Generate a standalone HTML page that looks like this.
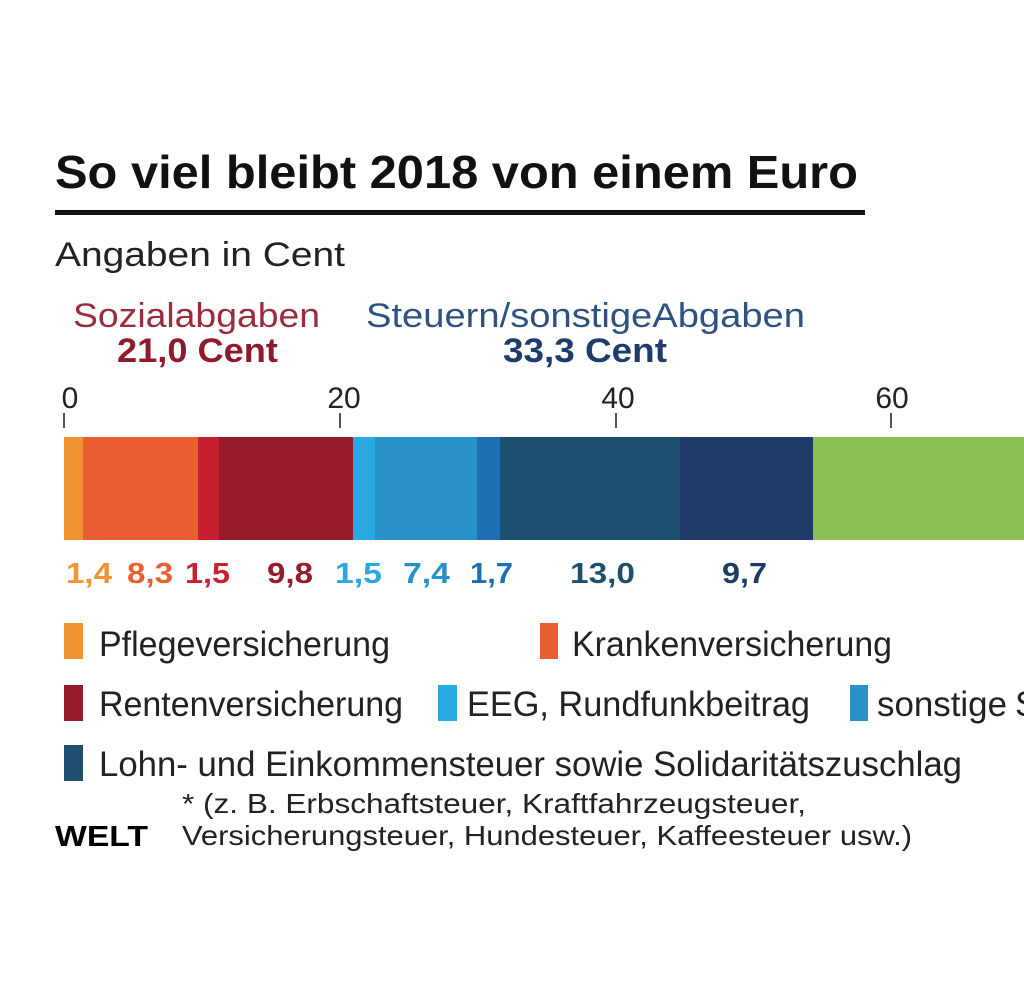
<!DOCTYPE html>
<html>
<head>
<meta charset="utf-8">
<style>
  html, body { margin: 0; padding: 0; background: #ffffff; }
  svg { display: block; }
  text { font-family: "Liberation Sans", "DejaVu Sans", sans-serif; }
</style>
</head>
<body>
<svg width="1024" height="1001" viewBox="0 0 1024 1001" xmlns="http://www.w3.org/2000/svg">
  <rect x="0" y="0" width="1024" height="1001" fill="#ffffff"/>

  <!-- Title -->
  <text x="55" y="188" font-size="46" font-weight="bold" fill="#111111" textLength="803" lengthAdjust="spacingAndGlyphs">So viel bleibt 2018 von einem Euro</text>
  <rect x="55" y="210" width="810" height="5" fill="#111111"/>

  <text x="55" y="266" font-size="34" fill="#222222" textLength="290" lengthAdjust="spacingAndGlyphs">Angaben in Cent</text>

  <!-- Group headers -->
  <text x="73" y="327" font-size="34" fill="#9b2c3c" textLength="247" lengthAdjust="spacingAndGlyphs">Sozialabgaben</text>
  <text x="117" y="362" font-size="34" font-weight="bold" fill="#8e1b2c" textLength="161" lengthAdjust="spacingAndGlyphs">21,0 Cent</text>
  <text x="366" y="327" font-size="34" fill="#2d5280" textLength="439" lengthAdjust="spacingAndGlyphs">Steuern/sonstigeAbgaben</text>
  <text x="503" y="362" font-size="34" font-weight="bold" fill="#1e3c69" textLength="164" lengthAdjust="spacingAndGlyphs">33,3 Cent</text>

  <!-- Axis tick labels -->
  <g font-size="30" fill="#222222" text-anchor="middle">
    <text x="70" y="408">0</text>
    <text x="344" y="408">20</text>
    <text x="618" y="408">40</text>
    <text x="892" y="408">60</text>
  </g>
  <g stroke="#1a1a1a" stroke-width="1.5">
    <line x1="64" y1="413" x2="64" y2="428"/>
    <line x1="340" y1="413" x2="340" y2="428"/>
    <line x1="616" y1="413" x2="616" y2="428"/>
    <line x1="891" y1="413" x2="891" y2="428"/>
  </g>

  <!-- Stacked bar -->
  <rect x="64" y="437" width="19.5" height="103" fill="#f39433"/>
  <rect x="83" y="437" width="115.5" height="103" fill="#e95f32"/>
  <rect x="198" y="437" width="21.5" height="103" fill="#c8202e"/>
  <rect x="219" y="437" width="134.5" height="103" fill="#961b2b"/>
  <rect x="353" y="437" width="22.5" height="103" fill="#29a9e1"/>
  <rect x="375" y="437" width="102.5" height="103" fill="#2891c8"/>
  <rect x="477" y="437" width="23.5" height="103" fill="#1c6fb3"/>
  <rect x="500" y="437" width="180.5" height="103" fill="#1d506f"/>
  <rect x="680" y="437" width="133.5" height="103" fill="#1f3a68"/>
  <rect x="813" y="437" width="211" height="103" fill="#8bc052"/>

  <!-- Value labels -->
  <g font-size="29" font-weight="bold">
    <text x="66" y="583" fill="#f39433" textLength="46" lengthAdjust="spacingAndGlyphs">1,4</text>
    <text x="127" y="583" fill="#e95f32" textLength="46" lengthAdjust="spacingAndGlyphs">8,3</text>
    <text x="185" y="583" fill="#c8202e" textLength="45" lengthAdjust="spacingAndGlyphs">1,5</text>
    <text x="267" y="583" fill="#961b2b" textLength="46" lengthAdjust="spacingAndGlyphs">9,8</text>
    <text x="335" y="583" fill="#29a9e1" textLength="47" lengthAdjust="spacingAndGlyphs">1,5</text>
    <text x="403" y="583" fill="#2891c8" textLength="47" lengthAdjust="spacingAndGlyphs">7,4</text>
    <text x="470" y="583" fill="#1c6fb3" textLength="43" lengthAdjust="spacingAndGlyphs">1,7</text>
    <text x="570" y="583" fill="#1d506f" textLength="65" lengthAdjust="spacingAndGlyphs">13,0</text>
    <text x="722" y="583" fill="#1f3a68" textLength="45" lengthAdjust="spacingAndGlyphs">9,7</text>
  </g>

  <!-- Legend -->
  <rect x="64" y="623" width="19" height="36" fill="#f39433"/>
  <text x="99" y="656" font-size="35" fill="#222222" textLength="291" lengthAdjust="spacingAndGlyphs">Pflegeversicherung</text>
  <rect x="540" y="623" width="18" height="36" fill="#e95f32"/>
  <text x="572" y="656" font-size="35" fill="#222222" textLength="320" lengthAdjust="spacingAndGlyphs">Krankenversicherung</text>

  <rect x="64" y="685" width="19" height="36" fill="#961b2b"/>
  <text x="99" y="716" font-size="35" fill="#222222" textLength="304" lengthAdjust="spacingAndGlyphs">Rentenversicherung</text>
  <rect x="438" y="685" width="19" height="36" fill="#29a9e1"/>
  <text x="467" y="716" font-size="35" fill="#222222" textLength="343" lengthAdjust="spacingAndGlyphs">EEG, Rundfunkbeitrag</text>
  <rect x="850" y="685" width="18" height="36" fill="#2891c8"/>
  <text x="877" y="716" font-size="35" fill="#222222" textLength="130" lengthAdjust="spacingAndGlyphs">sonstige</text>
  <text x="1015" y="716" font-size="35" fill="#222222">S</text>

  <rect x="64" y="745" width="19" height="36" fill="#1d506f"/>
  <text x="99" y="776" font-size="35" fill="#222222" textLength="863" lengthAdjust="spacingAndGlyphs">Lohn- und Einkommensteuer sowie Solidaritätszuschlag</text>

  <!-- Footnote -->
  <text x="182" y="813" font-size="28" fill="#222222" textLength="624" lengthAdjust="spacingAndGlyphs">* (z. B. Erbschaftsteuer, Kraftfahrzeugsteuer,</text>
  <text x="182" y="845" font-size="28" fill="#222222" textLength="730" lengthAdjust="spacingAndGlyphs">Versicherungsteuer, Hundesteuer, Kaffeesteuer usw.)</text>

  <!-- Logo -->
  <text x="55" y="846" font-size="29" font-weight="bold" fill="#000000" textLength="93" lengthAdjust="spacingAndGlyphs">WELT</text>
</svg>
</body>
</html>
